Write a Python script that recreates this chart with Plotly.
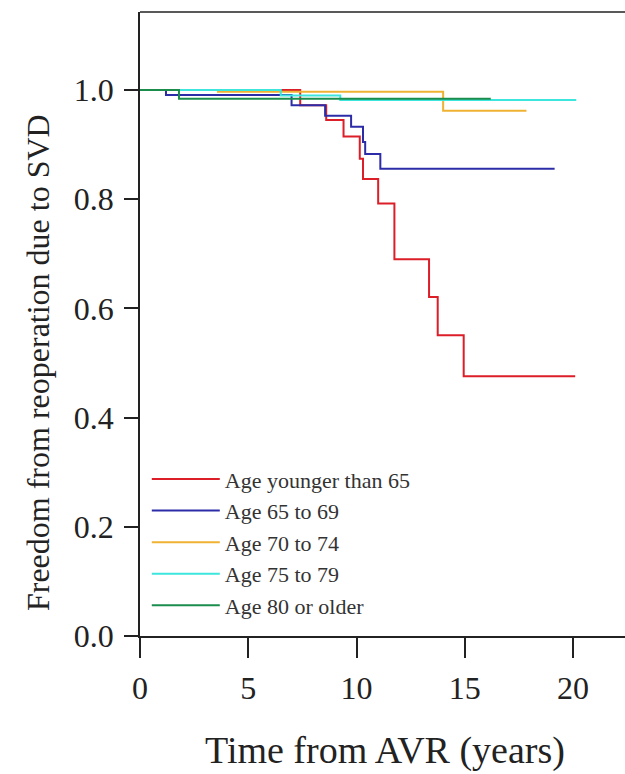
import plotly.graph_objects as go

# Kaplan-Meier style step data (time in years, freedom from reoperation)
names = ["Age younger than 65", "Age 65 to 69", "Age 70 to 74", "Age 75 to 79", "Age 80 or older"]
colors = ["#dc1e28", "#2c2ca8", "#f0b232", "#3ce6dc", "#1a8c4c"]

t_lt65 = [0, 7.4, 8.6, 9.4, 10.15, 10.3, 11.0, 11.75, 13.35, 13.75, 14.95, 20.1]
s_lt65 = [1.0, 0.972, 0.945, 0.915, 0.874, 0.837, 0.792, 0.690, 0.621, 0.551, 0.476, 0.476]

t_65_69 = [0, 1.2, 7.0, 8.55, 9.75, 10.3, 10.4, 11.1, 19.15]
s_65_69 = [1.0, 0.991, 0.972, 0.953, 0.933, 0.905, 0.883, 0.856, 0.856]

t_70_74 = [0, 3.6, 14.0, 17.85]
s_70_74 = [1.0, 0.997, 0.962, 0.962]

t_75_79 = [0, 6.5, 9.25, 20.15]
s_75_79 = [1.0, 0.99, 0.982, 0.982]

t_80 = [0, 1.8, 16.2]
s_80 = [1.0, 0.984, 0.984]

times = [t_lt65, t_65_69, t_70_74, t_75_79, t_80]
surv = [s_lt65, s_65_69, s_70_74, s_75_79, s_80]

x_ticks = [0, 5, 10, 15, 20]
y_ticks = [0.0, 0.2, 0.4, 0.6, 0.8, 1.0]

font_family = "Liberation Serif, Times New Roman, serif"

fig = go.Figure()
for name, c, t, s in zip(names, colors, times, surv):
    fig.add_trace(go.Scatter(x=t, y=s, mode="lines", name=name,
                             line=dict(color=c, width=2, shape="hv")))

fig.update_layout(
    width=625, height=774,
    margin=dict(l=140, r=0, t=12, b=138),
    paper_bgcolor="white", plot_bgcolor="white",
    font=dict(family=font_family, color="#222222"),
    showlegend=True,
    legend=dict(x=0.014, y=0.285, xanchor="left", yanchor="top",
                bgcolor="rgba(0,0,0,0)", font=dict(size=22, family=font_family, color="#333333"),
                itemwidth=68, tracegroupgap=0),
    xaxis=dict(range=[0, 22.4], tickvals=x_ticks, ticktext=[str(v) for v in x_ticks],
               showline=True, linecolor="#222222", linewidth=1.5, mirror=False,
               ticks="outside", ticklen=20, tickwidth=1.5, tickcolor="#222222",
               showgrid=False, zeroline=False, ticklabelstandoff=3,
               tickfont=dict(size=32, family=font_family)),
    yaxis=dict(range=[0, 1.143], tickvals=y_ticks, ticktext=["%.1f" % v for v in y_ticks],
               showline=True, linecolor="#222222", linewidth=1.5, mirror=False,
               ticks="outside", ticklen=14, tickwidth=1.5, tickcolor="#222222",
               showgrid=False, zeroline=False, ticklabelstandoff=4,
               tickfont=dict(size=32, family=font_family)),
    shapes=[dict(type="line", xref="paper", yref="paper", x0=0, x1=1, y0=1, y1=1,
                 line=dict(color="#222222", width=1.5))],
    annotations=[
        dict(text="Freedom from reoperation due to SVD", textangle=-90,
             xref="paper", yref="y", x=-0.2103, y=0.5,
             xanchor="center", yanchor="middle", showarrow=False,
             font=dict(size=32, family=font_family, color="#222222")),
        dict(text="Time from AVR (years)",
             xref="paper", yref="paper", x=0.505, y=-0.1827,
             xanchor="center", yanchor="middle", showarrow=False,
             font=dict(size=38, family=font_family, color="#222222")),
    ],
)

fig.write_html("out.html",
               config={"displayModeBar": False},
               post_script="document.body.style.margin='0';document.body.style.overflow='hidden';")
